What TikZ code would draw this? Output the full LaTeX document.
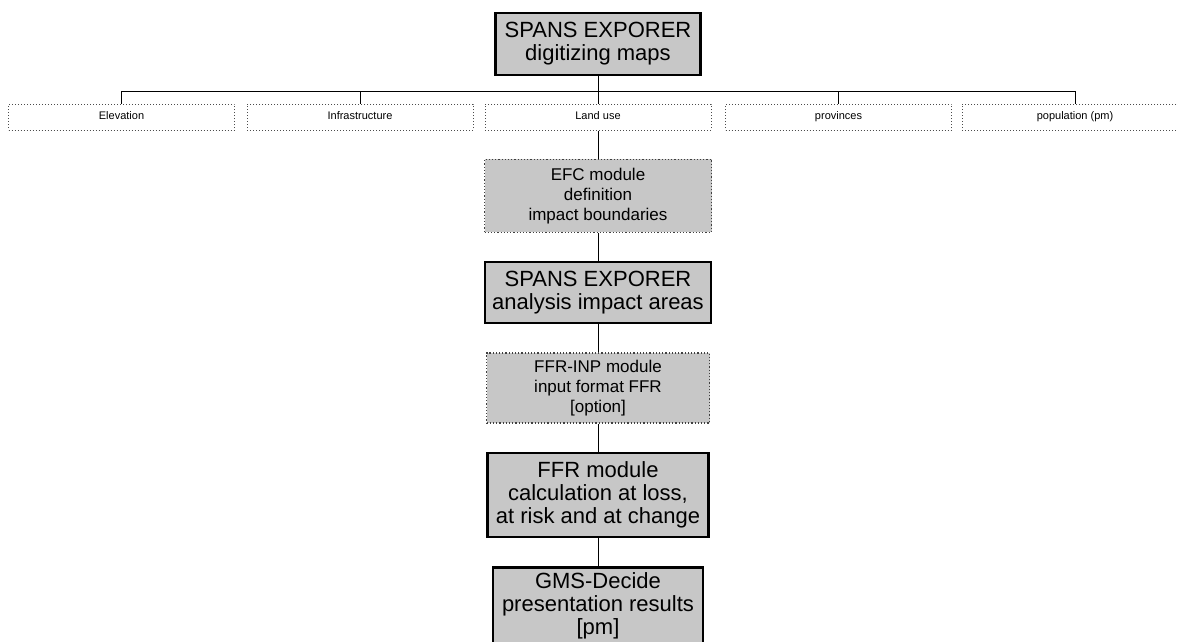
\documentclass[tikz,border=0pt]{standalone}
\usepackage{fontspec}
\setmainfont{Liberation Sans}
\usetikzlibrary{positioning}

\begin{document}
\begin{tikzpicture}[x=1pt,y=1pt,node distance=28pt]
\tikzset{tool/.style={draw=black,line width=2.6pt,fill=black!22,align=center,inner sep=2pt,font=\fontsize{22}{23}\selectfont},module/.style={draw=black!75,dotted,line width=1.2pt,fill=black!22,align=center,inner sep=2pt,font=\fontsize{17}{20}\selectfont},layer/.style={draw=black!70,dotted,line width=1pt,minimum width=226pt,minimum height=26pt,inner sep=0pt,text height=8pt,text depth=2.5pt,font=\fontsize{11}{12}\selectfont},link/.style={black,line width=1pt}}
\useasboundingbox (0,0) rectangle (1178,-641);
\node[tool,minimum width=205pt,minimum height=62pt] (digit) at (598,-44) {SPANS EXPORER\\digitizing maps};
\coordinate (bus) at (598,-91);
% map layers
\node[layer] (elev) at (121.5,-117) {Elevation};
\node[layer] (infra) at (360,-117) {Infrastructure};
\node[layer] (land) at (598,-117) {Land use};
\node[layer] (prov) at (838.5,-117) {provinces};
\node[layer] (popu) at (1075,-117) {population (pm)};
% processing chain
\node[module,below=of land,minimum width=227pt,minimum height=73pt] (efc) {EFC module\\definition\\impact boundaries};
\node[tool,below=of efc,minimum width=226pt,minimum height=61pt] (anal) {SPANS EXPORER\\analysis impact areas};
\node[module,below=of anal,minimum width=223pt,minimum height=70pt] (inp) {FFR-INP module\\input format FFR\\{[option]}};
\node[tool,below=of inp,minimum width=221pt,minimum height=84pt] (ffr) {FFR module\\calculation at loss,\\at risk and at change};
\node[tool,below=of ffr,minimum width=210pt,minimum height=77pt] (gms) {GMS-Decide\\presentation results\\{[pm]}};
\draw[link] (digit) -- (bus);
\foreach \n in {elev,infra,land,prov,popu} \draw[link] (bus) -| (\n.north);
\draw[link] (land) -- (efc);\draw[link] (efc) -- (anal);\draw[link] (anal) -- (inp);\draw[link] (inp) -- (ffr);\draw[link] (ffr) -- (gms);
\end{tikzpicture}
\end{document}
